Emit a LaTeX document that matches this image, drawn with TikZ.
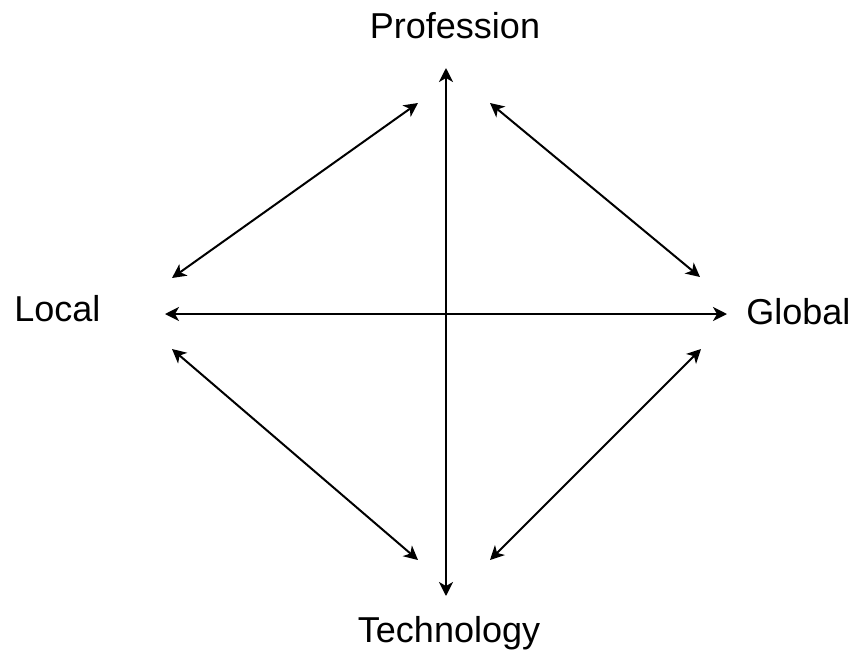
\documentclass[tikz,border=0pt]{standalone}
\usepackage{fontspec}
\setmainfont{Liberation Sans}
\usetikzlibrary{arrows.meta, positioning}

\begin{document}
\begin{tikzpicture}[
    x=0.5pt, y=-0.5pt,
    every node/.style={font=\fontsize{18pt}{22pt}\selectfont, inner sep=0pt},
    axislabel/.style={anchor=base},
    dblarrow/.style={line width=1pt, {Stealth[length=7pt,width=7pt,inset=2pt]}-{Stealth[length=7pt,width=7pt,inset=2pt]}}
  ]
    \useasboundingbox (0,0) rectangle (859,654);
    % Labels
    \node[axislabel] (prof) at (455,38) {Profession};
    \node[axislabel] (tech) at (449,642) {Technology};
    \node[axislabel, anchor=base west] (local) at (14,321) {Local};
    \node[axislabel, anchor=base west] (global) at (746,324) {Global};
    % Arrow ends
    \coordinate (top) at (446,68);
    \coordinate (bot) at (446,596);
    \coordinate (lft) at (165,314);
    \coordinate (rgt) at (727,314);
    \coordinate (nwA) at (172,278);
    \coordinate (nwB) at (418,103);
    \coordinate (neA) at (490,103);
    \coordinate (neB) at (700,277);
    \coordinate (swA) at (172,349);
    \coordinate (swB) at (418,560);
    \coordinate (seA) at (490,560);
    \coordinate (seB) at (701,349);
    % Axes
    \draw[dblarrow] (bot) -- (top);
    \draw[dblarrow] (lft) -- (rgt);
    % Diagonals
    \draw[dblarrow] (nwA) -- (nwB);
    \draw[dblarrow] (neA) -- (neB);
    \draw[dblarrow] (swA) -- (swB);
    \draw[dblarrow] (seA) -- (seB);
  \end{tikzpicture}
\end{document}
